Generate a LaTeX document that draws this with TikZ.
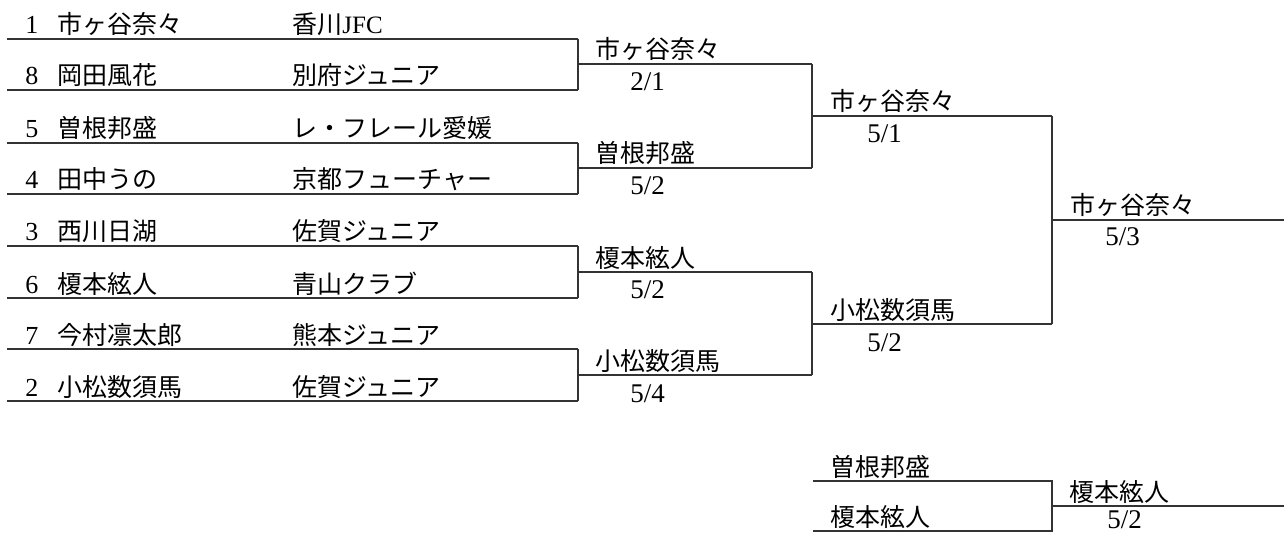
\documentclass[tikz,border=0pt]{standalone}
\usepackage{fontspec}
\setmainfont{Liberation Serif}
\newfontfamily\jp{Noto Sans CJK JP}
\tikzset{
  line/.style={draw=black!80,line width=0.6pt},
  player/.style={anchor=base west,inner sep=0pt,font=\jp\fontsize{12.5}{14}\selectfont},
  seednum/.style={anchor=base west,inner sep=0pt,font=\fontsize{13}{15}\selectfont},
  score/.style={anchor=base west,inner sep=0pt,font=\fontsize{13.5}{15}\selectfont},
}
\begin{document}
\begin{tikzpicture}[x=0.5pt,y=-0.5pt]
\useasboundingbox (0,0) rectangle (1284,534);
\foreach \y/\s/\n/\c in {39/1/市ヶ谷奈々/香川{\rmfamily JFC},90/8/岡田風花/別府ジュニア,
  143/5/曽根邦盛/レ・フレール愛媛,194/4/田中うの/京都フューチャー,
  246/3/西川日湖/佐賀ジュニア,298/6/榎本絃人/青山クラブ,
  349/7/今村凛太郎/熊本ジュニア,401/2/小松数須馬/佐賀ジュニア}{
  \coordinate (l\s) at (7,\y);
  \coordinate (r\s) at (578,\y);
  \draw[line] (l\s) -- (r\s);
  \node[seednum] (s\s) at (25,\y-5) {\s};
  \node[player] (n\s) at (57,\y-5) {\n};
  \node[player] (c\s) at (292,\y-5) {\c};
}
\foreach \a/\b/\y/\n/\p/\q in {1/8/64/市ヶ谷奈々/2/1,5/4/168/曽根邦盛/5/2,
  3/6/272/榎本絃人/5/2,7/2/375/小松数須馬/5/4}{
  \draw[line] (r\a) -- (r\b);
  \coordinate (x\a) at (578,\y);
  \coordinate (y\a) at (812,\y);
  \draw[line] (x\a) -- (y\a);
  \node[player] (w\a) at (595,\y-5) {\n};
  \node[score] (d\a) at (630,\y+27) {\p/\q};
}
\draw[line] (y1) -- (y5);
\coordinate (u1) at (812,116);
\coordinate (t1) at (1052,116);
\draw[line] (u1) -- (t1);
\node[player] (sf1) at (830,111) {市ヶ谷奈々};
\node[score] (sd1) at (867,143) {5/1};
\draw[line] (y3) -- (y7);
\coordinate (u3) at (812,324);
\coordinate (t3) at (1052,324);
\draw[line] (u3) -- (t3);
\node[player] (sf3) at (830,319) {小松数須馬};
\node[score] (sd3) at (867,351) {5/2};
\draw[line] (t1) -- (t3);
\coordinate (f1) at (1052,220);
\coordinate (f2) at (1284,220);
\draw[line] (f1) -- (f2);
\node[player] (fin) at (1070,215) {市ヶ谷奈々};
\node[score] (fd) at (1105,246) {5/3};
\coordinate (k1) at (813,481);
\coordinate (k2) at (1052,481);
\coordinate (k3) at (813,531);
\coordinate (k4) at (1052,531);
\draw[line] (k1) -- (k2) -- (k4) -- (k3);
\node[player] (p1) at (830,476) {曽根邦盛};
\node[player] (p2) at (830,526) {榎本絃人};
\coordinate (k5) at (1052,506);
\coordinate (k6) at (1284,506);
\draw[line] (k5) -- (k6);
\node[player] (p3) at (1069,501) {榎本絃人};
\node[score] (pd) at (1107,528) {5/2};
\end{tikzpicture}
\end{document}
